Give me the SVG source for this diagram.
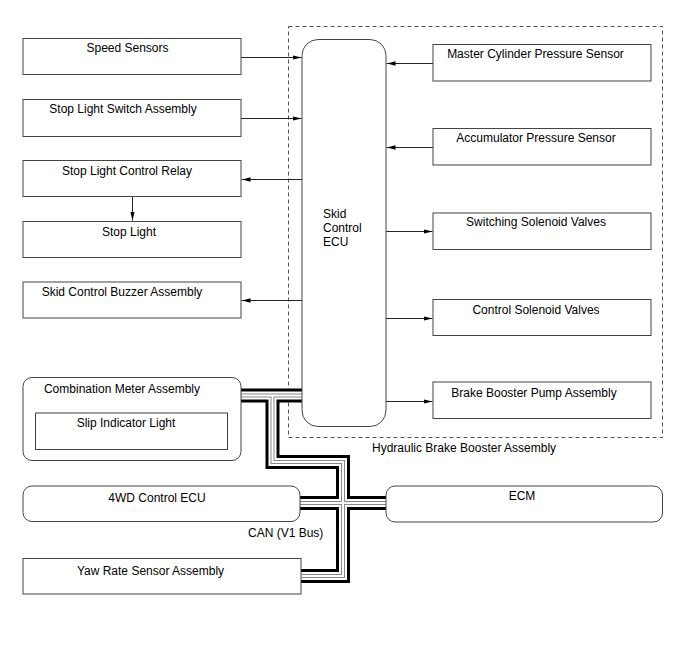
<svg xmlns="http://www.w3.org/2000/svg" width="688" height="658" viewBox="0 0 688 658">
<style>
.box{fill:#fff;stroke:#444;stroke-width:1}
.t{font-family:"Liberation Sans",Arial,sans-serif;font-size:12px;fill:#000}
.c{text-anchor:middle}
.ln{fill:none;stroke:#222;stroke-width:1}
.dash{fill:none;stroke:#555;stroke-width:1;stroke-dasharray:4,3}
.k1{fill:none;stroke:#000;stroke-width:14;stroke-linejoin:miter;stroke-linecap:butt}
.k2{fill:none;stroke:#fff;stroke-width:8;stroke-linejoin:miter;stroke-linecap:butt}
.k3{fill:none;stroke:#888;stroke-width:4;stroke-linejoin:miter;stroke-linecap:butt}
.k4{fill:none;stroke:#fff;stroke-width:2;stroke-linejoin:miter;stroke-linecap:butt}
</style>
<defs>
<marker id="ah" markerUnits="userSpaceOnUse" markerWidth="9" markerHeight="5" refX="9" refY="2.2" orient="auto">
<path d="M0,0 L9,2.2 L0,4.4 z" fill="#000"/>
</marker>
<path id="can1" d="M241,395.5 H302"/>
<path id="can2" d="M272.5,396 V462 H343 V576 H301"/>
<path id="can3" d="M300,503 H386"/>
</defs>
<rect width="688" height="658" fill="#fff"/>

<g id="hydraulic-brake-booster-assembly">
<rect class="dash" x="288.5" y="26.5" width="374" height="411"/>
<text class="t" x="372" y="452">Hydraulic Brake Booster Assembly</text>
</g>

<g id="can-bus">
<use href="#can1" class="k1"/><use href="#can2" class="k1"/><use href="#can3" class="k1"/>
<use href="#can1" class="k2"/><use href="#can2" class="k2"/><use href="#can3" class="k2"/>
<use href="#can1" class="k3"/><use href="#can2" class="k3"/><use href="#can3" class="k3"/>
<use href="#can1" class="k4"/><use href="#can2" class="k4"/><use href="#can3" class="k4"/>
<text class="t" x="248" y="537">CAN (V1 Bus)</text>
</g>

<g id="connectors">
<path class="ln" d="M241,57.5 H301.5" marker-end="url(#ah)"/>
<path class="ln" d="M241,118.5 H301.5" marker-end="url(#ah)"/>
<path class="ln" d="M302,179.5 H241.5" marker-end="url(#ah)"/>
<path class="ln" d="M132.5,197 V220.5" marker-end="url(#ah)"/>
<path class="ln" d="M302,300.5 H241.5" marker-end="url(#ah)"/>
<path class="ln" d="M433,63.5 H386.5" marker-end="url(#ah)"/>
<path class="ln" d="M433,147.5 H386.5" marker-end="url(#ah)"/>
<path class="ln" d="M386,231.5 H432.5" marker-end="url(#ah)"/>
<path class="ln" d="M386,318.5 H432.5" marker-end="url(#ah)"/>
<path class="ln" d="M386,401.5 H432.5" marker-end="url(#ah)"/>
</g>

<g id="skid-control-ecu">
<rect class="box" x="302" y="39.5" width="84" height="387" rx="16"/>
<text class="t" x="323" y="218">Skid</text>
<text class="t" x="323" y="232">Control</text>
<text class="t" x="323" y="246">ECU</text>
</g>

<g id="speed-sensors">
<rect class="box" x="23" y="38.5" width="218" height="36"/>
<text class="t c" x="127.5" y="52">Speed Sensors</text>
</g>
<g id="stop-light-switch-assembly">
<rect class="box" x="23" y="99.5" width="218" height="37"/>
<text class="t c" x="123" y="113">Stop Light Switch Assembly</text>
</g>
<g id="stop-light-control-relay">
<rect class="box" x="23" y="160.5" width="218" height="36"/>
<text class="t c" x="127" y="175">Stop Light Control Relay</text>
</g>
<g id="stop-light">
<rect class="box" x="23" y="221.5" width="218" height="36"/>
<text class="t c" x="129" y="236">Stop Light</text>
</g>
<g id="skid-control-buzzer-assembly">
<rect class="box" x="23" y="282" width="218" height="36"/>
<text class="t c" x="122" y="296">Skid Control Buzzer Assembly</text>
</g>

<g id="master-cylinder-pressure-sensor">
<rect class="box" x="433" y="44.5" width="218" height="36.5"/>
<text class="t c" x="535.5" y="58">Master Cylinder Pressure Sensor</text>
</g>
<g id="accumulator-pressure-sensor">
<rect class="box" x="433" y="128.5" width="218" height="36.5"/>
<text class="t c" x="536" y="142">Accumulator Pressure Sensor</text>
</g>
<g id="switching-solenoid-valves">
<rect class="box" x="433" y="213" width="218" height="36.5"/>
<text class="t c" x="536" y="226">Switching Solenoid Valves</text>
</g>
<g id="control-solenoid-valves">
<rect class="box" x="433" y="299.5" width="218" height="36"/>
<text class="t c" x="536" y="313.5">Control Solenoid Valves</text>
</g>
<g id="brake-booster-pump-assembly">
<rect class="box" x="433" y="382" width="218" height="36.5"/>
<text class="t c" x="534" y="397">Brake Booster Pump Assembly</text>
</g>

<g id="combination-meter-assembly">
<rect class="box" x="23" y="377.5" width="218" height="83" rx="9"/>
<text class="t c" x="122" y="393">Combination Meter Assembly</text>
<g id="slip-indicator-light">
<rect class="box" x="35.5" y="413" width="192" height="36.5"/>
<text class="t c" x="126" y="427">Slip Indicator Light</text>
</g>
</g>

<g id="4wd-control-ecu">
<rect class="box" x="23" y="486" width="277" height="35.5" rx="9"/>
<text class="t c" x="157" y="502">4WD Control ECU</text>
</g>
<g id="ecm">
<rect class="box" x="386" y="486" width="276.5" height="36" rx="9"/>
<text class="t c" x="522" y="499.5">ECM</text>
</g>
<g id="yaw-rate-sensor-assembly">
<rect class="box" x="23" y="558.5" width="278" height="35.5"/>
<text class="t c" x="150.5" y="575">Yaw Rate Sensor Assembly</text>
</g>
</svg>
